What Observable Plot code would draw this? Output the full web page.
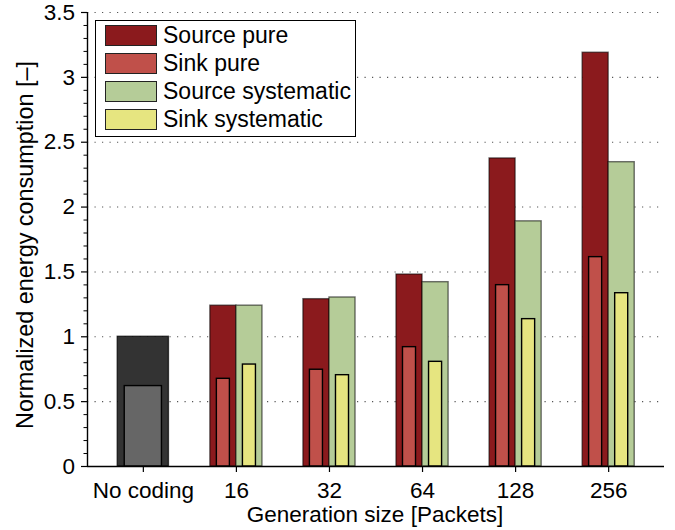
<!DOCTYPE html>
<html>
<head>
<meta charset="utf-8">
<script src="https://cdn.jsdelivr.net/npm/d3@7"></script>
<script src="https://cdn.jsdelivr.net/npm/@observablehq/plot@0.6"></script>
<style>
  body { margin: 0; background: #fff; }
  #wrap { position: relative; width: 675px; height: 530px; font-family: "Liberation Sans", Arial, sans-serif; }
  #wrap svg { position: absolute; left: 0; top: 0; }
  .legend { position: absolute; left: 95px; top: 20px; width: 261px; height: 117px; border: 1.5px solid #000; background: #fff; box-sizing: border-box; }
  .legend .sw { position: absolute; left: 9px; width: 52px; height: 21px; border: 1px solid #222; box-sizing: border-box; }
  .legend .lb { position: absolute; left: 67px; font-size: 23px; line-height: 23px; color: #000; white-space: nowrap; }
</style>
</head>
<body>
<div id="wrap"></div>
<script>
// ---- data ----
const groups = ["No coding", "16", "32", "64", "128", "256"];
const noCodingSource = [1.0];
const noCodingSink = [0.62];
const sourcePure = [1.24, 1.29, 1.48, 2.375, 3.19];
const sinkPure = [0.676, 0.746, 0.92, 1.398, 1.614];
const sourceSystematic = [1.24, 1.303, 1.421, 1.89, 2.346];
const sinkSystematic = [0.786, 0.704, 0.807, 1.136, 1.336];
const yTicks = [0, 0.5, 1, 1.5, 2, 2.5, 3, 3.5];
const legendLabels = ["Source pure", "Sink pure", "Source systematic", "Sink systematic"];
const legendColors = ["#8b1a1d", "#c0504a", "#b5cc98", "#e6e580"];
const xTitle = "Generation size [Packets]";
const yTitle = "Normalized energy consumption [–]";

// ---- build rect table ----
const coded = groups.slice(1);
const series = [
  {values: sourcePure,       a: -0.28, b: 0,     fill: legendColors[0], so: 0.55},
  {values: sourceSystematic, a: 0,     b: 0.28,  fill: legendColors[2], so: 0.55},
  {values: sinkPure,         a: -0.21, b: -0.07, fill: legendColors[1], so: 1},
  {values: sinkSystematic,   a: 0.07,  b: 0.21,  fill: legendColors[3], so: 1}
];
const rects = [];
rects.push({pos: 1, a: -0.275, b: 0.275, v: noCodingSource[0], fill: "#333333", so: 0.7});
rects.push({pos: 1, a: -0.2, b: 0.2, v: noCodingSink[0], fill: "#666666", so: 1});
for (const s of series) {
  coded.forEach((g, i) => rects.push({pos: groups.indexOf(g) + 1, a: s.a, b: s.b, v: s.values[i], fill: s.fill, so: s.so}));
}
const minorTicks = d3.range(0, 36).map(d => d / 10).filter(d => Math.round(d * 10) % 5 !== 0);

const FS = 22.5;
const svg = Plot.plot({
  width: 675,
  height: 530,
  marginLeft: 87,
  marginRight: 11,
  marginTop: 12,
  marginBottom: 64,
  style: {fontFamily: "Liberation Sans, Arial, sans-serif", fontSize: FS + "px", color: "#000", background: "#fff"},
  x: {type: "linear", domain: [0.4, 6.6], label: null},
  y: {domain: [0, 3.5], label: null},
  marks: [
    Plot.gridY(yTicks.filter(d => d > 0), {stroke: "#555", strokeOpacity: 1, strokeWidth: 1.1, strokeDasharray: "1.2,6.3"}),
    Plot.rect(rects, {
      x1: d => d.pos + d.a, x2: d => d.pos + d.b, y1: 0, y2: "v",
      fill: d => d.fill, stroke: "#000", strokeOpacity: d => d.so, strokeWidth: 1.4
    }),
    Plot.ruleY([0], {stroke: "#000", strokeWidth: 1.4}),
    Plot.ruleX([0.4], {stroke: "#000", strokeWidth: 1.4}),
    Plot.axisY({ticks: yTicks, tickSize: 6, tickPadding: 6.5, fontSize: FS, tickFormat: d => String(+d.toFixed(1)), strokeWidth: 1.2}),
    Plot.axisY({ticks: minorTicks, tickSize: 3.5, tickFormat: () => "", strokeWidth: 1}),
    Plot.axisX({ticks: [1, 2, 3, 4, 5, 6], tickSize: 6, tickPadding: 10, fontSize: FS, tickFormat: d => groups[Math.round(d) - 1], strokeWidth: 1.2})
  ]
});

const sel = d3.select(svg);
sel.append("text")
  .attr("x", 375).attr("y", 521.5)
  .attr("text-anchor", "middle")
  .attr("font-size", FS).attr("fill", "#000")
  .text(xTitle);
sel.append("text")
  .attr("transform", "translate(33,245) rotate(-90)")
  .attr("text-anchor", "middle")
  .attr("font-size", 23.4).attr("fill", "#000")
  .text(yTitle);

const wrap = document.getElementById("wrap");
wrap.appendChild(svg);

const leg = document.createElement("div");
leg.className = "legend";
legendLabels.forEach((lab, i) => {
  const sw = document.createElement("div");
  sw.className = "sw";
  sw.style.top = (4 + 28 * i) + "px";
  sw.style.background = legendColors[i];
  leg.appendChild(sw);
  const lb = document.createElement("div");
  lb.className = "lb";
  lb.style.top = (3 + 28 * i) + "px";
  lb.textContent = lab;
  leg.appendChild(lb);
});
wrap.appendChild(leg);
</script>
</body>
</html>
